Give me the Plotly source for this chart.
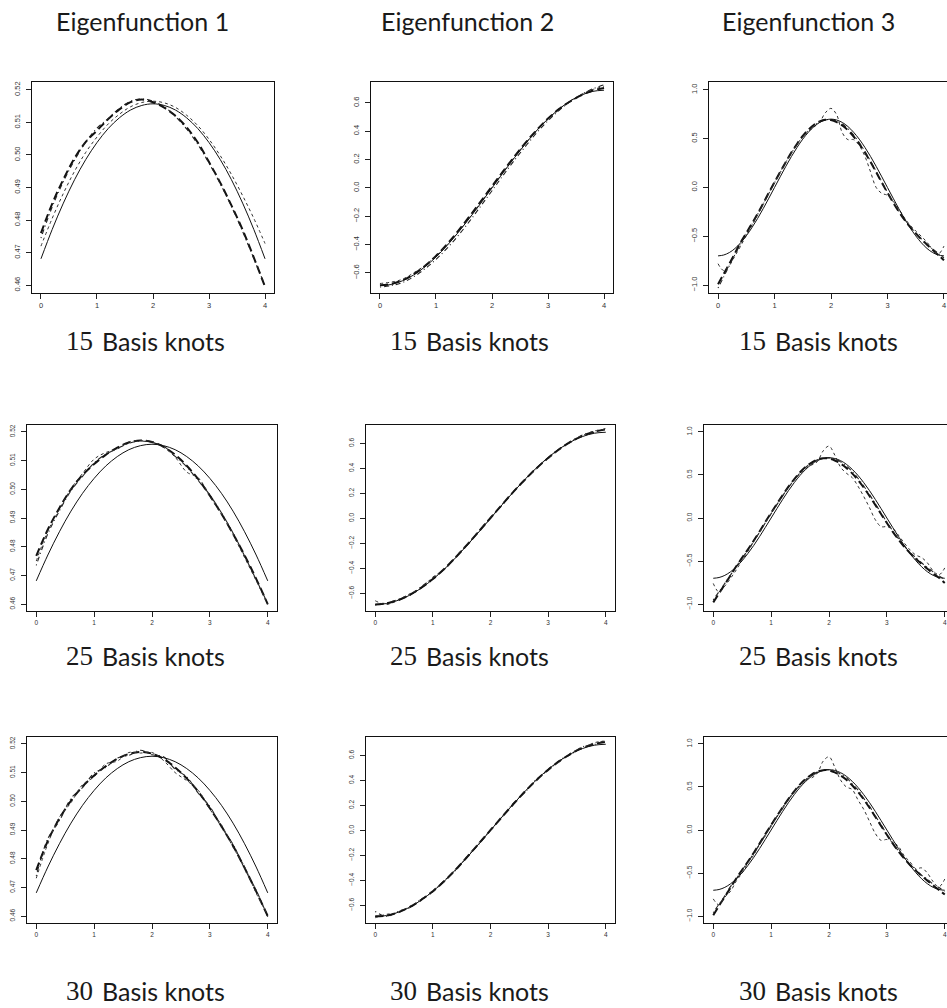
import plotly.graph_objects as go

# ---------------- data ----------------
x_coarse = [0.0, 0.2, 0.4, 0.6, 0.8, 1.0, 1.2, 1.4, 1.6, 1.8, 2.0,
            2.2, 2.4, 2.6, 2.8, 3.0, 3.2, 3.4, 3.6, 3.8, 4.0]
x_fine = [0.0, 0.1, 0.2, 0.3, 0.4, 0.5, 0.6, 0.7, 0.8, 0.9, 1.0,
          1.1, 1.2, 1.3, 1.4, 1.5, 1.6, 1.7, 1.8, 1.9, 2.0,
          2.1, 2.2, 2.3, 2.4, 2.5, 2.6, 2.7, 2.8, 2.9, 3.0,
          3.1, 3.2, 3.3, 3.4, 3.5, 3.6, 3.7, 3.8, 3.9, 4.0]

# true eigenfunctions
true_ef1 = [0.4681, 0.4771, 0.4852, 0.4924, 0.4986, 0.5038, 0.5081, 0.5114, 0.5138, 0.5152, 0.5157,
            0.5152, 0.5138, 0.5114, 0.5081, 0.5038, 0.4986, 0.4924, 0.4852, 0.4771, 0.4681]
true_ef2 = [-0.690, -0.682, -0.656, -0.615, -0.558, -0.488, -0.406, -0.313, -0.213, -0.108, 0.000,
            0.108, 0.213, 0.313, 0.406, 0.488, 0.558, 0.615, 0.656, 0.682, 0.690]
true_ef3 = [-0.700, -0.691, -0.666, -0.624, -0.566, -0.495, -0.411, -0.318, -0.216, -0.109, 0.000,
            0.109, 0.216, 0.318, 0.411, 0.495, 0.566, 0.624, 0.666, 0.691, 0.700,
            0.691, 0.666, 0.624, 0.566, 0.495, 0.411, 0.318, 0.216, 0.109, 0.000,
            -0.109, -0.216, -0.318, -0.411, -0.495, -0.566, -0.624, -0.666, -0.691, -0.700]

# estimates, eigenfunction 1
ef1_k15_a = [0.4760, 0.4850, 0.4925, 0.4990, 0.5040, 0.5075, 0.5110, 0.5140, 0.5162, 0.5170, 0.5162,
             0.5145, 0.5120, 0.5085, 0.5038, 0.4978, 0.4915, 0.4845, 0.4770, 0.4685, 0.4595]
ef1_k15_b = [0.4745, 0.4840, 0.4918, 0.4984, 0.5040, 0.5082, 0.5112, 0.5143, 0.5165, 0.5172, 0.5165,
             0.5148, 0.5118, 0.5080, 0.5032, 0.4975, 0.4912, 0.4842, 0.4765, 0.4682, 0.4598]
ef1_k15_c = [0.4720, 0.4805, 0.4882, 0.4950, 0.5008, 0.5055, 0.5095, 0.5125, 0.5148, 0.5161, 0.5165,
             0.5160, 0.5146, 0.5122, 0.5090, 0.5048, 0.4998, 0.4940, 0.4875, 0.4805, 0.4728]
ef1_k25_a = [0.4768, 0.4860, 0.4935, 0.5000, 0.5050, 0.5088, 0.5120, 0.5145, 0.5163, 0.5170, 0.5165,
             0.5148, 0.5120, 0.5082, 0.5035, 0.4978, 0.4915, 0.4845, 0.4770, 0.4688, 0.4600]
ef1_k25_b = [0.4735, 0.4845, 0.4925, 0.4995, 0.5045, 0.5092, 0.5122, 0.5142, 0.5160, 0.5168, 0.5163,
             0.5150, 0.5115, 0.5078, 0.5030, 0.4980, 0.4918, 0.4848, 0.4768, 0.4685, 0.4602]
ef1_k25_c = [0.4750, 0.4855, 0.4930, 0.5002, 0.5055, 0.5105, 0.5128, 0.5140, 0.5165, 0.5170, 0.5166,
             0.5146, 0.5112, 0.5060, 0.5040, 0.4975, 0.4912, 0.4842, 0.4762, 0.4682, 0.4598]
ef1_k30_a = [0.4760, 0.4862, 0.4940, 0.5002, 0.5052, 0.5090, 0.5122, 0.5148, 0.5165, 0.5172, 0.5166,
             0.5148, 0.5118, 0.5080, 0.5033, 0.4976, 0.4913, 0.4845, 0.4768, 0.4686, 0.4600]
ef1_k30_b = [0.4740, 0.4870, 0.4932, 0.5010, 0.5048, 0.5098, 0.5118, 0.5150, 0.5160, 0.5178, 0.5162,
             0.5155, 0.5112, 0.5085, 0.5028, 0.4982, 0.4910, 0.4850, 0.4765, 0.4690, 0.4598]
ef1_k30_c = [0.4732, 0.4852, 0.4945, 0.4995, 0.5058, 0.5085, 0.5130, 0.5140, 0.5170, 0.5168, 0.5170,
             0.5142, 0.5100, 0.5072, 0.5038, 0.4972, 0.4918, 0.4840, 0.4772, 0.4680, 0.4604]

# estimates, eigenfunction 2
ef2_k15_a = [-0.688, -0.678, -0.652, -0.610, -0.552, -0.480, -0.396, -0.302, -0.200, -0.095, 0.012,
             0.118, 0.222, 0.320, 0.410, 0.490, 0.558, 0.612, 0.655, 0.688, 0.705]
ef2_k15_b = [-0.700, -0.690, -0.668, -0.628, -0.572, -0.505, -0.425, -0.335, -0.235, -0.128, -0.020,
             0.090, 0.195, 0.295, 0.390, 0.475, 0.548, 0.610, 0.660, 0.700, 0.728]
ef2_k15_c = [-0.675, -0.665, -0.645, -0.600, -0.548, -0.480, -0.400, -0.310, -0.208, -0.102, 0.005,
             0.112, 0.218, 0.318, 0.408, 0.488, 0.556, 0.615, 0.662, 0.695, 0.718]
ef2_k25_a = [-0.690, -0.680, -0.655, -0.612, -0.555, -0.486, -0.404, -0.310, -0.208, -0.103, 0.003,
             0.110, 0.214, 0.312, 0.402, 0.484, 0.556, 0.616, 0.662, 0.694, 0.712]
ef2_k25_b = [-0.695, -0.676, -0.650, -0.615, -0.548, -0.478, -0.408, -0.305, -0.212, -0.100, 0.008,
             0.106, 0.218, 0.308, 0.406, 0.480, 0.560, 0.612, 0.668, 0.690, 0.722]
ef2_k25_c = [-0.660, -0.690, -0.652, -0.604, -0.560, -0.470, -0.410, -0.314, -0.204, -0.108, 0.000,
             0.114, 0.210, 0.316, 0.398, 0.488, 0.552, 0.620, 0.665, 0.700, 0.715]
ef2_k30_a = [-0.688, -0.682, -0.656, -0.614, -0.556, -0.488, -0.406, -0.312, -0.210, -0.104, 0.002,
             0.108, 0.212, 0.312, 0.404, 0.486, 0.556, 0.616, 0.662, 0.692, 0.710]
ef2_k30_b = [-0.650, -0.690, -0.648, -0.620, -0.550, -0.492, -0.400, -0.318, -0.206, -0.110, 0.006,
             0.104, 0.220, 0.306, 0.410, 0.480, 0.562, 0.610, 0.670, 0.688, 0.724]
ef2_k30_c = [-0.700, -0.672, -0.660, -0.608, -0.562, -0.480, -0.412, -0.306, -0.214, -0.098, -0.004,
             0.112, 0.206, 0.318, 0.398, 0.492, 0.550, 0.622, 0.658, 0.702, 0.716]

# estimates, eigenfunction 3
ef3_k15_a = [-0.990, -0.885, -0.780, -0.672, -0.562, -0.465, -0.370, -0.268, -0.162, -0.052, 0.055,
             0.160, 0.262, 0.360, 0.448, 0.528, 0.592, 0.642, 0.676, 0.693, 0.690,
             0.670, 0.636, 0.586, 0.522, 0.446, 0.358, 0.260, 0.156, 0.050, -0.054,
             -0.154, -0.246, -0.330, -0.404, -0.470, -0.530, -0.585, -0.640, -0.690, -0.745]
ef3_k15_b = [-1.030, -0.915, -0.800, -0.685, -0.575, -0.475, -0.378, -0.276, -0.170, -0.060, 0.048,
             0.152, 0.255, 0.352, 0.440, 0.520, 0.585, 0.636, 0.672, 0.692, 0.696,
             0.682, 0.650, 0.602, 0.538, 0.460, 0.370, 0.270, 0.165, 0.058, -0.048,
             -0.148, -0.240, -0.325, -0.400, -0.465, -0.525, -0.578, -0.628, -0.675, -0.720]
ef3_k15_c = [-0.780, -0.850, -0.800, -0.700, -0.600, -0.490, -0.390, -0.280, -0.170, -0.060, 0.050,
             0.155, 0.260, 0.355, 0.440, 0.515, 0.575, 0.620, 0.670, 0.765, 0.810,
             0.745, 0.560, 0.490, 0.490, 0.430, 0.320, 0.160, 0.000, -0.060, -0.080,
             -0.140, -0.220, -0.310, -0.385, -0.445, -0.500, -0.560, -0.635, -0.680, -0.600]
ef3_k25_a = [-0.980, -0.875, -0.770, -0.665, -0.558, -0.460, -0.365, -0.262, -0.156, -0.046, 0.060,
             0.165, 0.266, 0.364, 0.452, 0.531, 0.595, 0.644, 0.678, 0.694, 0.690,
             0.668, 0.632, 0.582, 0.518, 0.442, 0.354, 0.256, 0.152, 0.046, -0.058,
             -0.158, -0.250, -0.334, -0.408, -0.474, -0.534, -0.590, -0.645, -0.695, -0.755]
ef3_k25_b = [-0.950, -0.855, -0.760, -0.660, -0.560, -0.465, -0.372, -0.270, -0.165, -0.056, 0.050,
             0.155, 0.258, 0.356, 0.444, 0.524, 0.590, 0.640, 0.676, 0.694, 0.698,
             0.684, 0.652, 0.604, 0.540, 0.462, 0.372, 0.272, 0.166, 0.058, -0.048,
             -0.148, -0.240, -0.324, -0.398, -0.462, -0.520, -0.574, -0.625, -0.672, -0.715]
ef3_k25_c = [-0.760, -0.860, -0.790, -0.700, -0.600, -0.490, -0.385, -0.275, -0.165, -0.055, 0.055,
             0.160, 0.262, 0.355, 0.440, 0.515, 0.575, 0.615, 0.655, 0.780, 0.835,
             0.730, 0.590, 0.520, 0.470, 0.370, 0.250, 0.120, -0.020, -0.100, -0.100,
             -0.120, -0.200, -0.290, -0.370, -0.430, -0.460, -0.520, -0.615, -0.660, -0.580]
ef3_k30_a = [-0.990, -0.880, -0.775, -0.668, -0.560, -0.462, -0.366, -0.264, -0.158, -0.048, 0.058,
             0.163, 0.264, 0.362, 0.450, 0.530, 0.594, 0.644, 0.678, 0.695, 0.692,
             0.670, 0.634, 0.584, 0.520, 0.444, 0.356, 0.258, 0.154, 0.048, -0.056,
             -0.156, -0.248, -0.332, -0.406, -0.472, -0.532, -0.588, -0.644, -0.695, -0.750]
ef3_k30_b = [-0.960, -0.860, -0.765, -0.655, -0.565, -0.460, -0.378, -0.265, -0.170, -0.052, 0.045,
             0.158, 0.252, 0.360, 0.440, 0.528, 0.586, 0.645, 0.672, 0.698, 0.700,
             0.688, 0.648, 0.608, 0.536, 0.466, 0.368, 0.276, 0.162, 0.062, -0.052,
             -0.145, -0.245, -0.320, -0.402, -0.458, -0.525, -0.570, -0.630, -0.668, -0.718]
ef3_k30_c = [-0.800, -0.870, -0.780, -0.710, -0.590, -0.500, -0.380, -0.290, -0.160, -0.070, 0.060,
             0.150, 0.270, 0.350, 0.450, 0.510, 0.585, 0.605, 0.660, 0.800, 0.850,
             0.730, 0.580, 0.500, 0.470, 0.350, 0.240, 0.100, -0.040, -0.120, -0.110,
             -0.140, -0.190, -0.300, -0.370, -0.450, -0.440, -0.500, -0.600, -0.660, -0.570]

# tick labels
x_tickvals = [0, 1, 2, 3, 4]
x_ticktext = ["0", "1", "2", "3", "4"]
ef1_tickvals = [0.46, 0.47, 0.48, 0.49, 0.50, 0.51, 0.52]
ef1_ticktext = ["0.46", "0.47", "0.48", "0.49", "0.50", "0.51", "0.52"]
ef2_tickvals = [-0.6, -0.4, -0.2, 0.0, 0.2, 0.4, 0.6]
ef2_ticktext = ["\u22120.6", "\u22120.4", "\u22120.2", "0.0", "0.2", "0.4", "0.6"]
ef3_tickvals = [-1.0, -0.5, 0.0, 0.5, 1.0]
ef3_ticktext = ["\u22121.0", "\u22120.5", "0.0", "0.5", "1.0"]

column_titles = ["Eigenfunction 1", "Eigenfunction 2", "Eigenfunction 3"]
knot_counts = ["15", "25", "30"]
knot_caption = "Basis knots"

# ---------------- panel definitions ----------------
estimates = [
    [(ef1_k15_a, ef1_k15_b, ef1_k15_c), (ef2_k15_a, ef2_k15_b, ef2_k15_c), (ef3_k15_a, ef3_k15_b, ef3_k15_c)],
    [(ef1_k25_a, ef1_k25_b, ef1_k25_c), (ef2_k25_a, ef2_k25_b, ef2_k25_c), (ef3_k25_a, ef3_k25_b, ef3_k25_c)],
    [(ef1_k30_a, ef1_k30_b, ef1_k30_c), (ef2_k30_a, ef2_k30_b, ef2_k30_c), (ef3_k30_a, ef3_k30_b, ef3_k30_c)],
]
truths = [true_ef1, true_ef2, true_ef3]
xgrids = [x_coarse, x_coarse, x_fine]
yticks = [(ef1_tickvals, ef1_ticktext), (ef2_tickvals, ef2_ticktext), (ef3_tickvals, ef3_ticktext)]
yranges = [[0.4576, 0.5224], [-0.742, 0.748], [-1.08, 1.08]]

W, H = 947, 1008
row_px = [(82, 293), (425, 611), (737, 923)]
col_px = [[(32, 274), (371, 613), (709, 953)],
          [(27, 277), (366, 615), (704, 954)],
          [(27, 277), (366, 615), (704, 954)]]
tick_font_size = [7.5, 6.5, 6.5]

line_styles = [
    dict(color="#111111", width=2.0, dash="8px,4px"),          # long dash
    dict(color="#222222", width=1.1, dash="1px,3px,5px,3px"),  # dot-dash
    dict(color="#333333", width=1.0, dash="3px,3px"),          # short dash
]
true_style = dict(color="#111111", width=1.0)

fig = go.Figure()
layout = dict(
    width=W, height=H,
    margin=dict(l=0, r=0, t=0, b=0),
    paper_bgcolor="white", plot_bgcolor="white",
    showlegend=False,
)

for r in range(3):
    top, bottom = row_px[r]
    for c in range(3):
        idx = r * 3 + c + 1
        left, right = col_px[r][c]
        x_lo, x_hi = -0.16, 4.16
        mirror_y = True
        if right > W:
            x_hi = -0.16 + 4.32 * (W - left) / (right - left)
            right = W
            mirror_y = False
        xa = "x" if idx == 1 else f"x{idx}"
        ya = "y" if idx == 1 else f"y{idx}"
        fs = tick_font_size[r]
        tickfont = dict(family="Liberation Sans, Arial, sans-serif", size=fs, color="#333333")
        common = dict(showline=True, linecolor="#111111", linewidth=1, ticks="outside",
                      ticklen=5, tickwidth=1, tickcolor="#222222", showgrid=False,
                      zeroline=False, tickfont=tickfont, fixedrange=True)
        layout["xaxis" if idx == 1 else f"xaxis{idx}"] = dict(
            common, domain=[left / W, right / W], range=[x_lo, x_hi], anchor=ya,
            tickvals=x_tickvals, ticktext=x_ticktext, mirror=True)
        tv, tt = yticks[c]
        layout["yaxis" if idx == 1 else f"yaxis{idx}"] = dict(
            common, domain=[1 - bottom / H, 1 - top / H], range=yranges[c], anchor=xa,
            tickvals=tv, ticktext=tt, tickangle=-90, mirror=mirror_y, ticklabelstandoff=3)

        xs = xgrids[c]
        for series, style in zip(estimates[r][c], line_styles):
            fig.add_trace(go.Scatter(x=xs, y=series, mode="lines", line=dict(style, shape="spline"),
                                     xaxis=xa, yaxis=ya, hoverinfo="skip"))
        fig.add_trace(go.Scatter(x=xs, y=truths[c], mode="lines", line=dict(true_style, shape="spline"),
                                 xaxis=xa, yaxis=ya, hoverinfo="skip"))

sans = dict(family="Lato, Open Sans, sans-serif", size=25, color="#1a1a1a")
serif = dict(family="Liberation Serif, DejaVu Serif, serif", size=27, color="#1a1a1a")

annotations = []
title_pos = [(142, 21), (467, 21), (808, 21)]
for text, (px, py) in zip(column_titles, title_pos):
    annotations.append(dict(text=text, x=px / W, y=1 - py / H, xref="paper", yref="paper",
                            xanchor="center", yanchor="middle", showarrow=False, font=sans))

# caption under each panel: serif knot count followed by sans words
label_y = [341, 656, 991]
label_x = [147, 471, 820]
for r, k in enumerate(knot_counts):
    for c in range(3):
        cx, cy = label_x[c], label_y[r]
        annotations.append(dict(text=k, x=(cx - 53) / W, y=1 - cy / H, xref="paper", yref="paper",
                                xanchor="right", yanchor="middle", showarrow=False,
                                borderpad=0, font=serif))
        annotations.append(dict(text=knot_caption, x=(cx - 46) / W, y=1 - cy / H,
                                xref="paper", yref="paper", xanchor="left", yanchor="middle",
                                showarrow=False, borderpad=0, font=sans))
layout["annotations"] = annotations

fig.update_layout(**layout)
fig.write_html("out.html")
